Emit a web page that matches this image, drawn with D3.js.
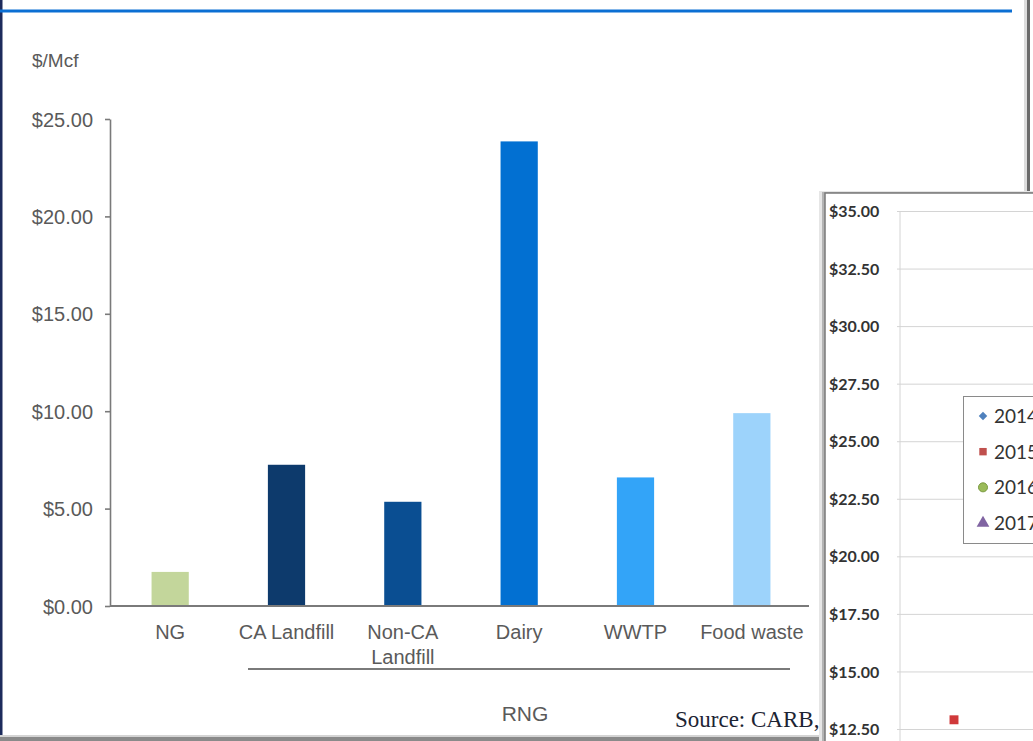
<!DOCTYPE html>
<html>
<head>
<meta charset="utf-8">
<script src="https://cdn.jsdelivr.net/npm/d3@7"></script>
<style>
  html, body { margin: 0; padding: 0; background: #fff; }
  svg { display: block; }
</style>
</head>
<body>
<svg id="chart" width="1033" height="741"></svg>
<script>
// ---- Main chart data ----
const categories = ["NG", "CA Landfill", "Non-CA Landfill", "Dairy", "WWTP", "Food waste"];
const costs = [1.75, 7.25, 5.35, 23.85, 6.6, 9.9];
const barColors = ["#c3d69b", "#0d3a6c", "#0a4e92", "#0270d2", "#33a4f8", "#9dd3fb"];
const yTicks = [0, 5, 10, 15, 20, 25];
const unitLabel = "$/Mcf";
const groupLabel = "RNG";
const sourceLabel = "Source: CARB,";

// ---- Overlay (partially visible) chart data ----
const overlayTicks = [12.5, 15, 17.5, 20, 22.5, 25, 27.5, 30, 32.5, 35];
const overlayYears = ["2014", "2015", "2016", "2017"];
const overlayColors = ["#4f81bd", "#c0504d", "#9bbb59", "#8064a2"];
const overlaySymbols = [d3.symbolSquare, d3.symbolSquare, d3.symbolCircle, d3.symbolTriangle];
const overlayRotations = [45, 0, 0, 0];
const overlayPoints = [{ year: "2015", x: 1, value: 12.9 }];

const svg = d3.select("#chart");
const grey = "#5a5a5a";
const sans = "'Liberation Sans', Arial, sans-serif";

// ---- Frame ----
svg.append("rect").attr("x", 0).attr("y", 0).attr("width", 1033).attr("height", 741).attr("fill", "#fff");
svg.append("rect").attr("x", 0).attr("y", 0).attr("width", 2.5).attr("height", 741).attr("fill", "#1d2b5c");
svg.append("rect").attr("x", 0).attr("y", 9.5).attr("width", 1012).attr("height", 3).attr("fill", "#0b6fd3");
svg.append("rect").attr("x", 1027).attr("y", 0).attr("width", 3).attr("height", 195).attr("fill", "#6a6a6a");
svg.append("rect").attr("x", 1024).attr("y", 0).attr("width", 3).attr("height", 195).attr("fill", "#dcdcdc");
svg.append("rect").attr("x", 0).attr("y", 737).attr("width", 830).attr("height", 4).attr("fill", "#8a8a8a");
svg.append("rect").attr("x", 0).attr("y", 735).attr("width", 830).attr("height", 2).attr("fill", "#d4d4d4");

// ---- Main bar chart ----
const y = d3.scaleLinear().domain([0, 25]).range([606, 119]);
const x = d3.scaleBand().domain(categories).range([112, 810]).paddingInner(0.68).paddingOuter(0.34);

const yAxis = svg.append("g").attr("transform", "translate(110,0)")
  .call(d3.axisLeft(y).tickValues(yTicks).tickFormat(d3.format("$.2f")).tickSize(5).tickSizeOuter(0).tickPadding(12));
yAxis.select(".domain").attr("stroke", "#7a7a7a").attr("stroke-width", 1.6);
yAxis.selectAll(".tick line").attr("stroke", "#7a7a7a").attr("stroke-width", 1.6);
yAxis.selectAll("text").attr("fill", grey).attr("font-family", sans)
  .attr("font-size", 20).attr("dy", "0.35em");

svg.append("g").selectAll("rect").data(categories).join("rect")
  .attr("x", d => x(d))
  .attr("width", x.bandwidth())
  .attr("y", (d, i) => y(costs[i]))
  .attr("height", (d, i) => y(0) - y(costs[i]))
  .attr("fill", (d, i) => barColors[i]);

const xAxis = svg.append("g").attr("transform", "translate(0,606)")
  .call(d3.axisBottom(x).tickSize(0).tickSizeOuter(0).tickPadding(0));
xAxis.select(".domain").attr("d", "M110,0H809").attr("stroke", "#7a7a7a").attr("stroke-width", 2);
xAxis.selectAll(".tick text").each(function(d) {
  const t = d3.select(this);
  const lines = d === "Non-CA Landfill" ? ["Non-CA", "Landfill"] : [d];
  t.text(null).attr("y", 0).attr("dy", null)
    .attr("fill", grey).attr("font-family", sans).attr("font-size", 20);
  lines.forEach((ln, k) => t.append("tspan").attr("x", 0).attr("y", 33 + k * 25).text(ln));
});

svg.append("line").attr("x1", 248).attr("x2", 790).attr("y1", 669).attr("y2", 669)
  .attr("stroke", "#7a7a7a").attr("stroke-width", 2);
svg.append("text").attr("x", 525).attr("y", 721).attr("text-anchor", "middle")
  .attr("fill", grey).attr("font-family", sans).attr("font-size", 21)
  .text(groupLabel);
svg.append("text").attr("x", 32).attr("y", 67)
  .attr("fill", grey).attr("font-family", sans).attr("font-size", 19)
  .text(unitLabel);
svg.append("text").attr("x", 675).attr("y", 727)
  .attr("fill", "#1c2433").attr("font-family", "'Liberation Serif', 'Times New Roman', serif").attr("font-size", 23)
  .text(sourceLabel);

// ---- Overlay chart (cropped screenshot) ----
const ov = svg.append("g");
ov.append("rect").attr("x", 819).attr("y", 191).attr("width", 220).attr("height", 560).attr("fill", "#e6e6e6");
ov.append("rect").attr("x", 822).attr("y", 192).attr("width", 220).attr("height", 560).attr("fill", "#b4b4b4");
ov.append("rect").attr("x", 825).attr("y", 193).attr("width", 220).attr("height", 560)
  .attr("fill", "#fff").attr("stroke", "#7a7a7a").attr("stroke-width", 1.5);

const oy = d3.scaleLinear().domain([12.5, 35]).range([729, 211]);
const ox = d3.scaleLinear().domain([0, 10]).range([900, 1440]);

const oAxis = ov.append("g").attr("transform", "translate(900,0)")
  .call(d3.axisLeft(oy).tickValues(overlayTicks).tickFormat(d3.format("$.2f")).tickSize(-300).tickSizeOuter(0).tickPadding(20));
oAxis.select(".domain").attr("stroke", "#d4d4d4").attr("d", "M0,211V741");
oAxis.selectAll(".tick line").attr("stroke", "#d4d4d4").attr("x1", -3);
oAxis.selectAll("text").attr("fill", "#333").attr("font-family", "Lato, 'Open Sans', sans-serif")
  .attr("font-weight", "bold").attr("font-size", 16).attr("text-anchor", "start").attr("x", -71).attr("dy", "0.35em");

ov.selectAll("path.pt").data(overlayPoints).join("path").attr("class", "pt")
  .attr("transform", d => `translate(${ox(d.x)},${oy(d.value)})`)
  .attr("d", d => d3.symbol(overlaySymbols[overlayYears.indexOf(d.year)], 80)())
  .attr("fill", "#d0393a");

const lg = ov.append("g");
lg.append("rect").attr("x", 963.5).attr("y", 396.5).attr("width", 120).attr("height", 147)
  .attr("fill", "#fff").attr("stroke", "#8a8a8a").attr("stroke-width", 1);
const ly = d3.scalePoint().domain(overlayYears).range([416, 523]);
const symSizes = [36, 55, 64, 70];
overlayYears.forEach((yr, i) => {
  lg.append("path").attr("transform", `translate(983,${ly(yr)}) rotate(${overlayRotations[i]})`)
    .attr("d", d3.symbol(overlaySymbols[i], symSizes[i])())
    .attr("fill", overlayColors[i])
    .attr("stroke", i === 2 ? "#7a9a40" : "none").attr("stroke-width", 1);
  lg.append("text").attr("x", 994).attr("y", ly(yr)).attr("dy", "0.36em")
    .attr("fill", "#333").attr("font-family", "Lato, 'Open Sans', sans-serif").attr("font-size", 19)
    .text(yr);
});
</script>
</body>
</html>
